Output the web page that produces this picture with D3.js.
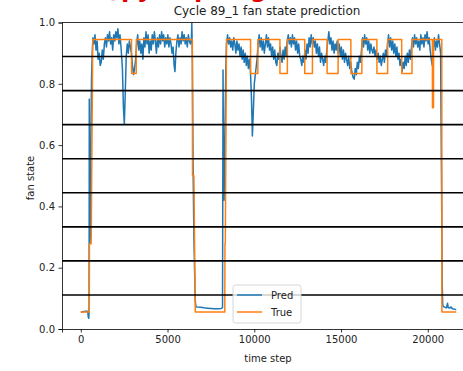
<!DOCTYPE html>
<html>
<head>
<meta charset="utf-8">
<script src="https://cdn.jsdelivr.net/npm/d3@7"></script>
<style>
  body { margin: 0; background: #fff; }
  text { font-family: "DejaVu Sans", sans-serif; }
</style>
</head>
<body>
<div id="chart"></div>
<script>
// data: [time step, fan state]
var predPoints = [
  [0,0.055],[100,0.056],[200,0.057],[300,0.058],[400,0.058],[430,0.04],[460,0.035],[480,0.06],[490,0.75],[505,0.42],[520,0.28],[550,0.3],[580,0.6],[620,0.82],[660,0.9],[700,0.95],
  [760,0.93],[820,0.96],[880,0.91],[940,0.94],[1000,0.88],[1060,0.9],[1120,0.86],[1180,0.87],[1240,0.91],[1300,0.88],[1360,0.93],[1420,0.95],[1480,0.92],[1540,0.96],[1600,0.94],[1660,0.97],[1720,0.93],[1780,0.95],[1840,0.91],[1900,0.96],[1960,0.94],[2020,0.97],[2080,0.95],[2140,0.98],[2200,0.93],[2260,0.96],[2320,0.92],
  [2400,0.85],[2460,0.72],[2510,0.67],[2560,0.76],[2620,0.89],[2680,0.93],[2740,0.9],[2800,0.94],[2860,0.92],[2920,0.9],[2980,0.86],[3040,0.83],[3100,0.85],[3160,0.88],[3220,0.93],[3280,0.96],[3340,0.91],[3400,0.94],[3460,0.9],[3520,0.93],[3580,0.88],[3640,0.95],[3700,0.92],[3760,0.97],[3820,0.93],[3880,0.96],[3940,0.9],[4000,0.94],[4060,0.91],[4120,0.96],[4180,0.93],[4240,0.97],[4300,0.94],[4360,0.9],[4420,0.95],[4480,0.92],[4540,0.96],[4600,0.93],[4660,0.97],[4720,0.94],[4780,0.96],[4840,0.92],[4900,0.95],[4960,0.93],[5020,0.96],[5080,0.92],[5140,0.95],[5200,0.93],[5260,0.9],[5320,0.92],[5380,0.86],[5430,0.84],[5480,0.9],[5540,0.94],[5600,0.96],[5660,0.92],[5720,0.95],[5780,0.93],[5840,0.97],[5900,0.94],[5960,0.96],[6020,0.93],[6080,0.95],[6140,0.92],[6200,0.96],[6260,0.94],[6320,0.93],[6380,0.95],[6400,1.0],[6430,0.9],[6470,0.55],[6520,0.3],[6560,0.19],[6600,0.09],[6640,0.073],
  [6700,0.072],[6900,0.071],[7100,0.069],[7300,0.068],[7500,0.067],[7700,0.066],[7900,0.066],[8100,0.067],[8170,0.07],[8200,0.845],[8230,0.5],[8260,0.42],[8300,0.6],[8360,0.85],[8400,0.93],
  [8460,0.96],[8520,0.93],[8580,0.95],[8640,0.92],[8700,0.94],[8760,0.91],[8820,0.95],[8880,0.93],[8940,0.9],[9000,0.94],[9060,0.91],[9120,0.93],[9180,0.89],[9240,0.92],[9300,0.88],[9360,0.91],[9420,0.87],[9480,0.9],[9540,0.86],[9600,0.89],[9660,0.85],[9720,0.88],[9780,0.84],[9840,0.75],[9890,0.63],[9940,0.7],[10000,0.8],[10080,0.84],[10160,0.88],[10220,0.93],
  [10280,0.96],[10340,0.92],[10400,0.95],[10460,0.91],[10520,0.94],[10580,0.9],[10640,0.93],[10700,0.96],[10760,0.92],[10820,0.95],[10880,0.91],[10940,0.93],[11000,0.89],[11060,0.92],[11120,0.88],[11180,0.91],[11240,0.87],[11300,0.86],[11360,0.9],[11420,0.88],[11480,0.92],[11540,0.89],[11600,0.87],[11660,0.91],[11720,0.88],[11780,0.92],[11840,0.89],[11900,0.94],[11960,0.96],[12020,0.93],[12080,0.95],[12140,0.92],[12200,0.96],[12260,0.93],[12320,0.95],[12380,0.91],[12440,0.94],[12500,0.9],[12560,0.93],[12620,0.89],[12680,0.88],[12740,0.86],[12800,0.89],[12860,0.87],[12920,0.91],[12980,0.88],[13040,0.93],[13100,0.9],[13160,0.95],[13220,0.92],[13280,0.96],[13340,0.93],[13400,0.95],[13460,0.92],[13520,0.94],[13580,0.9],[13640,0.93],[13700,0.89],[13760,0.92],[13820,0.87],[13880,0.9],[13940,0.88],[14000,0.86],[14060,0.89],[14120,0.87],[14180,0.91],[14240,0.94],[14300,0.97],[14360,0.93],[14420,0.95],[14480,0.91],[14540,0.94],[14600,0.9],[14660,0.93],[14720,0.91],[14780,0.94],[14840,0.9],[14900,0.93],[14960,0.89],[15020,0.92],[15080,0.88],[15140,0.91],[15200,0.87],[15260,0.9],[15320,0.88],[15380,0.86],[15440,0.89],[15500,0.85],[15560,0.87],[15620,0.84],[15700,0.82],[15760,0.815],[15820,0.85],[15880,0.83],[15940,0.87],[16000,0.85],[16060,0.89],[16120,0.87],[16180,0.91],[16240,0.95],[16300,0.92],[16360,0.96],[16420,0.93],[16480,0.95],[16540,0.91],[16600,0.94],[16660,0.9],[16720,0.93],[16780,0.91],[16840,0.9],[16900,0.92],[16960,0.89],[17020,0.91],[17080,0.88],[17140,0.9],[17200,0.87],[17260,0.89],[17320,0.86],[17380,0.88],[17440,0.9],[17500,0.87],[17560,0.91],[17620,0.89],[17680,0.93],[17740,0.96],[17800,0.92],[17860,0.95],[17920,0.91],[17980,0.94],[18040,0.9],[18100,0.93],[18160,0.89],[18220,0.92],[18280,0.88],[18340,0.9],[18400,0.86],[18460,0.88],[18520,0.84],[18580,0.87],[18640,0.85],[18700,0.89],[18760,0.86],[18820,0.9],[18880,0.87],[18940,0.91],[19000,0.88],[19060,0.92],[19120,0.95],[19180,0.92],[19240,0.96],[19300,0.93],[19360,0.95],[19420,0.92],[19480,0.94],[19540,0.91],[19600,0.96],[19660,0.93],[19720,0.95],[19780,0.92],[19840,0.96],[19900,0.94],[19960,0.97],[20020,0.93],[20080,0.95],[20140,0.91],[20200,0.88],[20260,0.86],[20320,0.92],[20380,0.95],[20440,0.91],[20500,0.94],[20560,0.92],[20620,0.96],[20680,0.93],[20740,0.9],
  [20790,0.5],[20830,0.154],[20860,0.08],[20900,0.073],[20960,0.072],[21020,0.07],[21080,0.069],[21140,0.084],[21180,0.07],[21260,0.068],[21340,0.072],[21420,0.066],[21500,0.065],[21580,0.064],[21640,0.063]
];

var truePoints = [
  [0,1/18],[490,1/18],[500,5/18],[600,5/18],[690,17/18],[2925,17/18],[2930,15/18],[3196,15/18],[3200,17/18],
  [6430,17/18],[6440,9/18],[6520,9/18],[6600,1/18],[8300,1/18],[8310,5/18],[8330,5/18],[8400,17/18],
  [9786,17/18],[9790,15/18],[10207,15/18],[10210,17/18],[11479,17/18],[11480,15/18],[11907,15/18],[11910,17/18],
  [12907,17/18],[12910,15/18],[13352,15/18],[13355,17/18],[14196,17/18],[14200,15/18],[14831,15/18],[14835,17/18],
  [15566,17/18],[15570,15/18],[16201,15/18],[16205,17/18],[17068,17/18],[17070,15/18],[17687,15/18],[17690,17/18],
  [18496,17/18],[18500,15/18],[19091,15/18],[19095,17/18],[20265,17/18],[20270,13/18],[20330,13/18],[20335,17/18],
  [20808,17/18],[20815,1/18],[21640,1/18]
];

// fan state level boundaries
var levels = [1/9, 2/9, 3/9, 4/9, 5/9, 6/9, 7/9, 8/9];
var xTicks = [0, 5000, 10000, 15000, 20000];
var yTicks = [0, 0.2, 0.4, 0.6, 0.8, 1.0];
var seriesNames = ["Pred", "True"];
var colors = ["#1f77b4", "#ff7f0e"];

var W = 463, H = 371;
var margin = {top: 22.5, left: 62, right: -12, bottom: 42};
var width = W - margin.left - margin.right,
    height = H - margin.top - margin.bottom;

var svg = d3.select("#chart").append("svg")
    .attr("width", W)
    .attr("height", H);

var x = d3.scaleLinear().domain([-1082, 22722]).range([0, width]);
var y = d3.scaleLinear().domain([0, 1]).range([height, 0]);

svg.append("defs").append("clipPath").attr("id", "clip")
  .append("rect").attr("width", width).attr("height", height);

var g = svg.append("g")
    .attr("transform", "translate(" + margin.left + "," + margin.top + ")");

var line = d3.line()
    .x(function(d) { return x(d[0]); })
    .y(function(d) { return y(d[1]); });

var plot = g.append("g").attr("clip-path", "url(#clip)");

plot.append("path").datum(predPoints)
    .attr("d", line)
    .attr("fill", "none")
    .attr("stroke", colors[0])
    .attr("stroke-width", 1.5)
    .attr("stroke-linejoin", "round");

plot.append("path").datum(truePoints)
    .attr("d", line)
    .attr("fill", "none")
    .attr("stroke", colors[1])
    .attr("stroke-width", 1.5)
    .attr("stroke-linejoin", "round");

plot.selectAll(".level")
    .data(levels)
  .enter().append("line")
    .attr("class", "level")
    .attr("x1", 0).attr("x2", width)
    .attr("y1", function(d) { return y(d); })
    .attr("y2", function(d) { return y(d); })
    .attr("stroke", "#000")
    .attr("stroke-width", 1.6);

// axes
var xAxis = g.append("g")
    .attr("transform", "translate(0," + height + ")")
    .call(d3.axisBottom(x).tickValues(xTicks).tickSizeOuter(0).tickSize(3.5).tickPadding(3.5).tickFormat(d3.format("d")));
var yAxis = g.append("g")
    .call(d3.axisLeft(y).tickValues(yTicks).tickSizeOuter(0).tickSize(3.5).tickPadding(3.5).tickFormat(d3.format(".1f")));

[xAxis, yAxis].forEach(function(a) {
  a.select(".domain").attr("stroke-width", 0.8);
  a.selectAll(".tick line").attr("stroke-width", 0.8);
  a.selectAll("text").attr("font-size", 10).attr("fill", "#222")
    .attr("font-family", "DejaVu Sans, sans-serif");
});

// top spine (right one is cropped off)
g.append("line")
    .attr("x1", 0).attr("x2", width).attr("y1", 0).attr("y2", 0)
    .attr("stroke", "#000").attr("stroke-width", 0.8);

// title and labels
svg.append("text")
    .attr("x", 267).attr("y", 15)
    .attr("text-anchor", "middle")
    .attr("font-size", 12).attr("fill", "#222")
    .text("Cycle 89_1 fan state prediction");

svg.append("text")
    .attr("x", 268).attr("y", 362)
    .attr("text-anchor", "middle")
    .attr("font-size", 10).attr("fill", "#222")
    .text("time step");

svg.append("text")
    .attr("transform", "translate(34,178) rotate(-90)")
    .attr("text-anchor", "middle")
    .attr("font-size", 10).attr("fill", "#222")
    .text("fan state");

// red heading cut off at the top of the picture (only its lowest pixels show)
var redBits = [["(", 106], ["p", 121], ["y", 137], ["p", 194], ["g", 250]];
svg.selectAll(".red")
    .data(redBits)
  .enter().append("text")
    .attr("x", function(d) { return d[1]; })
    .attr("y", -3)
    .attr("font-size", 24).attr("font-weight", "bold")
    .attr("fill", "#e00000")
    .text(function(d) { return d[0]; });

// legend
var lg = svg.append("g").attr("transform", "translate(233,285)");
lg.append("rect")
    .attr("width", 68).attr("height", 38).attr("rx", 2.5)
    .attr("fill", "#fff").attr("fill-opacity", 0.8)
    .attr("stroke", "#ccc").attr("stroke-width", 0.8);
seriesNames.forEach(function(name, i) {
  lg.append("line")
      .attr("x1", 4).attr("x2", 29)
      .attr("y1", 10 + i * 17).attr("y2", 10 + i * 17)
      .attr("stroke", colors[i]).attr("stroke-width", 1.5);
  lg.append("text")
      .attr("x", 38).attr("y", 13.5 + i * 17)
      .attr("font-size", 10).attr("fill", "#222")
      .text(name);
});
</script>
</body>
</html>
